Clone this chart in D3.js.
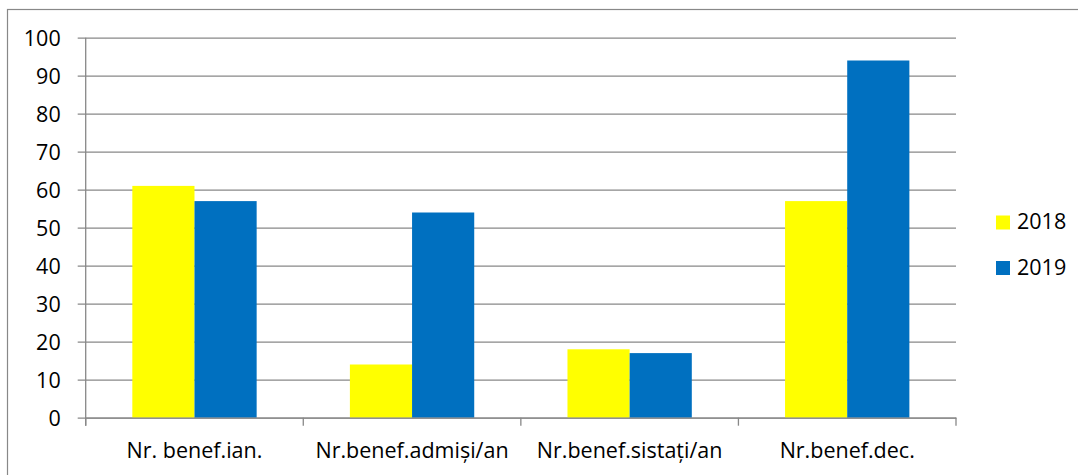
<!DOCTYPE html>
<html>
<head>
<meta charset="utf-8">
<script src="https://cdn.jsdelivr.net/npm/d3@7"></script>
<style>
  body { margin: 0; background: #fff; }
  svg { display: block; }
  text { font-family: "Open Sans", "Noto Sans", sans-serif; fill: #000; }
</style>
</head>
<body>
<svg id="chart"></svg>
<script>
const categories = ["Nr. benef.ian.", "Nr.benef.admiși/an", "Nr.benef.sistați/an", "Nr.benef.dec."];
const seriesNames = ["2018", "2019"];
const values2018 = [61, 14, 18, 57];
const values2019 = [57, 54, 17, 94];
const yTicks = [0, 10, 20, 30, 40, 50, 60, 70, 80, 90, 100];
const seriesColors = ["#FFFF00", "#0070C0"];

const W = 1078, H = 475;
const margin = { top: 37.7, right: 122, bottom: 57.3, left: 85.7 };
const width = W - margin.left - margin.right;
const height = H - margin.top - margin.bottom;
const gridColor = "#888888";
const fontSize = 21.5;

const svg = d3.select("#chart").attr("width", W).attr("height", H);

// outer frame (right and bottom edges run off the picture)
svg.append("rect")
    .attr("x", 7.5).attr("y", 9.5)
    .attr("width", 1100).attr("height", 500)
    .attr("fill", "none")
    .attr("stroke", gridColor)
    .attr("stroke-width", 1.2);

const g = svg.append("g").attr("transform", `translate(${margin.left},${margin.top})`);

const x0 = d3.scaleBand().domain(categories).range([0, width]).paddingInner(0).paddingOuter(0);
const x1 = d3.scaleBand().domain(seriesNames).range([0, x0.bandwidth()]).paddingOuter(0.75).paddingInner(0);
const y = d3.scaleLinear().domain([0, 100]).range([height, 0]);

// gridlines + y ticks
const yAxis = g.append("g")
    .call(d3.axisLeft(y).tickValues(yTicks).tickSize(-width).tickSizeOuter(0).tickPadding(25));
yAxis.select(".domain").remove();
yAxis.selectAll(".tick line")
    .attr("x1", -8)
    .attr("stroke", gridColor).attr("stroke-width", 1.3);
yAxis.selectAll(".tick text")
    .style("font-size", fontSize + "px")
    .attr("dy", "0.36em");

// vertical axis line
g.append("line")
    .attr("x1", 0).attr("x2", 0)
    .attr("y1", 0).attr("y2", height + 8)
    .attr("stroke", gridColor).attr("stroke-width", 1.3);

// bars
const data = categories.map((c, i) => ({ cat: c, vals: [values2018[i], values2019[i]] }));
g.selectAll(".grp")
    .data(data)
    .join("g")
    .attr("transform", d => `translate(${x0(d.cat)},0)`)
    .selectAll("rect")
    .data(d => d.vals.map((v, j) => ({ name: seriesNames[j], v, j })))
    .join("rect")
    .attr("x", d => x1(d.name))
    .attr("width", x1.bandwidth())
    .attr("y", d => y(d.v))
    .attr("height", d => height - y(d.v))
    .attr("fill", d => seriesColors[d.j]);

// x axis
const xAxis = g.append("g")
    .attr("transform", `translate(0,${height})`)
    .call(d3.axisBottom(x0).tickSize(0));
xAxis.select(".domain").attr("stroke", gridColor).attr("stroke-width", 1.3);
xAxis.selectAll(".tick text")
    .style("font-size", fontSize + "px")
    .attr("y", 40.3)
    .attr("dy", 0);

// category separators
g.selectAll(".sep")
    .data(d3.range(categories.length + 1))
    .join("line")
    .attr("x1", i => i * x0.step()).attr("x2", i => i * x0.step())
    .attr("y1", height).attr("y2", height + 8)
    .attr("stroke", gridColor).attr("stroke-width", 1.3);

// legend
const legend = svg.append("g").attr("transform", "translate(996,215.5)");
seriesNames.forEach((name, i) => {
  const row = legend.append("g").attr("transform", `translate(0,${i * 45.5})`);
  row.append("rect").attr("width", 14).attr("height", 14).attr("fill", seriesColors[i]);
  row.append("text")
      .attr("x", 21).attr("y", 13.5)
      .style("font-size", fontSize + "px")
      .text(name);
});
</script>
</body>
</html>
